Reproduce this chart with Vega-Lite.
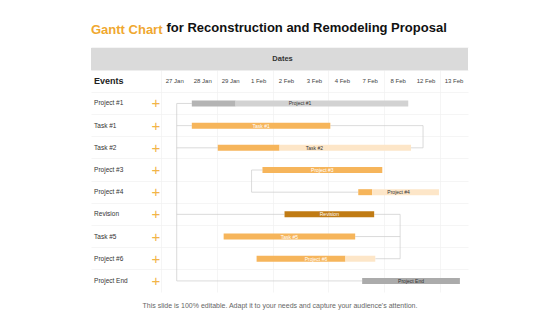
{
  "$schema": "https://vega.github.io/schema/vega-lite/v6.json",
  "width": 377,
  "height": 244,
  "autosize": {"type": "none"},
  "padding": {"left": 91, "top": 48, "right": 92, "bottom": 23},
  "background": "white",
  "config": {"view": {"stroke": null}, "font": "Liberation Sans"},
  "title": {
    "text": "Gantt Chart",
    "anchor": "start",
    "frame": "group",
    "color": "#F0A830",
    "font": "Liberation Sans",
    "fontWeight": "bold",
    "fontSize": 13,
    "offset": -16
  },
  "datasets": {
    "events": [
      {"event": "Project #1"}, {"event": "Task #1"}, {"event": "Task #2"},
      {"event": "Project #3"}, {"event": "Project #4"}, {"event": "Revision"},
      {"event": "Task #5"}, {"event": "Project #6"}, {"event": "Project End"}
    ],
    "dates": [
      {"label": "27 Jan", "col": 0.5}, {"label": "28 Jan", "col": 1.5},
      {"label": "29 Jan", "col": 2.5}, {"label": "1 Feb", "col": 3.5},
      {"label": "2 Feb", "col": 4.5}, {"label": "3 Feb", "col": 5.5},
      {"label": "4 Feb", "col": 6.5}, {"label": "7 Feb", "col": 7.5},
      {"label": "8 Feb", "col": 8.5}, {"label": "12 Feb", "col": 9.5},
      {"label": "13 Feb", "col": 10.5}
    ],
    "segments": [
      {"event": "Project #1", "from": 1.11, "to": 2.68, "kind": "Summary (done)"},
      {"event": "Project #1", "from": 2.68, "to": 8.86, "kind": "Summary (planned)"},
      {"event": "Task #1", "from": 1.11, "to": 6.07, "kind": "Task (done)"},
      {"event": "Task #2", "from": 2.04, "to": 4.25, "kind": "Task (done)"},
      {"event": "Task #2", "from": 4.25, "to": 8.96, "kind": "Task (planned)"},
      {"event": "Project #3", "from": 3.64, "to": 7.93, "kind": "Task (done)"},
      {"event": "Project #4", "from": 7.07, "to": 7.57, "kind": "Task (done)"},
      {"event": "Project #4", "from": 7.57, "to": 9.96, "kind": "Task (planned)"},
      {"event": "Revision", "from": 4.43, "to": 7.64, "kind": "Revision"},
      {"event": "Task #5", "from": 2.25, "to": 6.96, "kind": "Task (done)"},
      {"event": "Project #6", "from": 3.43, "to": 6.61, "kind": "Task (done)"},
      {"event": "Project #6", "from": 6.61, "to": 7.68, "kind": "Task (planned)"},
      {"event": "Project End", "from": 7.21, "to": 10.71, "kind": "Milestone"}
    ],
    "labels": [
      {"event": "Project #1", "from": 1.11, "to": 8.86, "over": "Summary (planned)"},
      {"event": "Task #1", "from": 1.11, "to": 6.07, "over": "Task (done)"},
      {"event": "Task #2", "from": 2.04, "to": 8.96, "over": "Task (planned)"},
      {"event": "Project #3", "from": 3.64, "to": 7.93, "over": "Task (done)"},
      {"event": "Project #4", "from": 7.07, "to": 9.96, "over": "Task (planned)"},
      {"event": "Revision", "from": 4.43, "to": 7.64, "over": "Revision"},
      {"event": "Task #5", "from": 2.25, "to": 6.96, "over": "Task (done)"},
      {"event": "Project #6", "from": 3.43, "to": 7.68, "over": "Task (done)"},
      {"event": "Project End", "from": 7.21, "to": 10.71, "over": "Milestone"}
    ],
    "links": [
      {"x": 0.57, "x2": 0.57, "y": "Project #1", "y2": "Project End"},
      {"x": 0.57, "x2": 1.11, "y": "Project #1", "y2": "Project #1"},
      {"x": 0.57, "x2": 1.11, "y": "Task #1", "y2": "Task #1"},
      {"x": 0.57, "x2": 2.04, "y": "Task #2", "y2": "Task #2"},
      {"x": 0.57, "x2": 4.43, "y": "Revision", "y2": "Revision"},
      {"x": 0.57, "x2": 7.21, "y": "Project End", "y2": "Project End"},
      {"x": 6.07, "x2": 9.39, "y": "Task #1", "y2": "Task #1"},
      {"x": 9.39, "x2": 9.39, "y": "Task #1", "y2": "Task #2"},
      {"x": 8.96, "x2": 9.39, "y": "Task #2", "y2": "Task #2"},
      {"x": 3.25, "x2": 3.25, "y": "Project #3", "y2": "Project #4"},
      {"x": 3.25, "x2": 3.64, "y": "Project #3", "y2": "Project #3"},
      {"x": 3.25, "x2": 7.07, "y": "Project #4", "y2": "Project #4"},
      {"x": 7.64, "x2": 8.57, "y": "Revision", "y2": "Revision"},
      {"x": 8.57, "x2": 8.57, "y": "Revision", "y2": "Project #6"},
      {"x": 6.96, "x2": 8.57, "y": "Task #5", "y2": "Task #5"},
      {"x": 7.68, "x2": 8.57, "y": "Project #6", "y2": "Project #6"}
    ]
  },
  "encoding": {
    "y": {
      "field": "event",
      "type": "nominal",
      "scale": {
        "domain": ["Dates", "Events", "Project #1", "Task #1", "Task #2", "Project #3", "Project #4", "Revision", "Task #5", "Project #6", "Project End"],
        "paddingInner": 0,
        "paddingOuter": 0
      }
    }
  },
  "layer": [
    {
      "data": {"values": [{"event": "Dates", "from": -2.5, "to": 11}]},
      "mark": {"type": "bar", "color": "#dadada", "cornerRadius": 0},
      "encoding": {
        "x": {
          "field": "from",
          "type": "quantitative",
          "scale": {"domain": [-2.5, 11], "nice": false, "zero": false},
          "axis": {
            "orient": "bottom",
            "values": [0, 1, 2, 3, 4, 5, 6, 7, 8, 9, 10, 11],
            "labels": false,
            "ticks": false,
            "domain": false,
            "grid": true,
            "gridColor": "#f0f0f0",
            "gridWidth": 0.7,
            "title": "This slide is 100% editable. Adapt it to your needs and capture your audience's attention.",
            "titleFont": "Liberation Sans",
            "titleFontWeight": "normal",
            "titleFontSize": 7,
            "titleColor": "#666666",
            "titlePadding": 9
          }
        },
        "x2": {"field": "to"},
        "y": {
          "field": "event",
          "type": "nominal",
          "axis": {
            "orient": "left",
            "labels": false,
            "ticks": false,
            "domain": false,
            "grid": true,
            "bandPosition": 0,
            "gridColor": "#f0f0f0",
            "gridWidth": 0.7,
            "title": "for Reconstruction and Remodeling Proposal",
            "titleAngle": 0,
            "titleAlign": "left",
            "titleBaseline": "alphabetic",
            "titleX": 75,
            "titleY": -17,
            "titleFont": "Liberation Sans",
            "titleFontWeight": "bold",
            "titleFontSize": 13,
            "titleColor": "#111111"
          }
        }
      }
    },
    {
      "data": {"values": [{"event": "Dates", "text": "Dates"}]},
      "mark": {"type": "text", "fontWeight": "bold", "fontSize": 7.5, "color": "#333333"},
      "encoding": {"x": {"datum": 4.36}, "text": {"field": "text"}}
    },
    {
      "data": {"values": [{"event": "Events", "text": "Events"}]},
      "mark": {"type": "text", "fontWeight": "bold", "fontSize": 9, "color": "#222222", "align": "left"},
      "encoding": {"x": {"datum": -2.39}, "text": {"field": "text"}}
    },
    {
      "data": {"name": "dates"},
      "mark": {"type": "text", "fontSize": 6, "color": "#444444"},
      "encoding": {
        "x": {"field": "col", "type": "quantitative"},
        "y": {"datum": "Events"},
        "text": {"field": "label"}
      }
    },
    {
      "data": {"name": "events"},
      "mark": {"type": "text", "fontSize": 6.5, "color": "#333333", "align": "left"},
      "encoding": {"x": {"datum": -2.39}, "text": {"field": "event"}}
    },
    {
      "data": {"name": "events"},
      "mark": {"type": "text", "fontSize": 15, "color": "#F2B447", "text": "+"},
      "encoding": {"x": {"datum": -0.18}}
    },
    {
      "data": {"name": "links"},
      "mark": {"type": "rule", "color": "#cccccc", "strokeWidth": 0.7},
      "encoding": {
        "x": {"field": "x", "type": "quantitative"},
        "x2": {"field": "x2"},
        "y": {"field": "y", "type": "nominal"},
        "y2": {"field": "y2"}
      }
    },
    {
      "data": {"name": "segments"},
      "mark": {"type": "bar", "height": 6, "cornerRadius": 0},
      "encoding": {
        "x": {"field": "from", "type": "quantitative"},
        "x2": {"field": "to"},
        "color": {
          "field": "kind",
          "type": "nominal",
          "legend": null,
          "scale": {
            "domain": ["Summary (done)", "Summary (planned)", "Task (done)", "Task (planned)", "Revision", "Milestone"],
            "range": ["#b4b4b4", "#d2d2d2", "#F6B55B", "#FDE6C8", "#C07B14", "#ababab"]
          }
        }
      }
    },
    {
      "data": {"name": "labels"},
      "transform": [{"calculate": "(datum.from + datum.to) / 2", "as": "mid"}],
      "mark": {"type": "text", "fontSize": 5},
      "encoding": {
        "x": {"field": "mid", "type": "quantitative"},
        "text": {"field": "event"},
        "color": {
          "condition": {"test": "datum.over === 'Task (done)' || datum.over === 'Revision'", "value": "#ffffff"},
          "value": "#333333"
        }
      }
    }
  ]
}
